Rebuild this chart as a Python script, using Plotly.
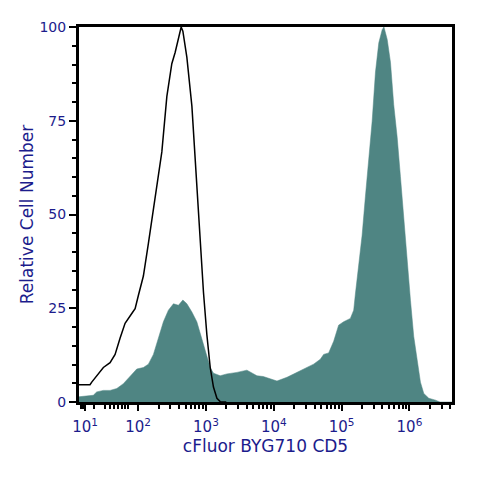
import plotly.graph_objects as go
import math

# x positions are in display decades of the (logicle-like) fluorescence axis
ctrl_x = [1.129, 1.291, 1.317, 1.390, 1.488, 1.587, 1.661, 1.734, 1.808, 1.907, 1.956,
          2.004, 2.078, 2.152, 2.226, 2.300, 2.350, 2.424, 2.497, 2.546, 2.595, 2.635,
          2.660, 2.719, 2.793, 2.866, 2.915, 2.964, 3.014, 3.063, 3.111, 3.162, 3.210, 3.300]
ctrl_y = [4.6, 4.6, 5.3, 7.0, 9.2, 10.5, 12.7, 17.0, 21.0, 23.6, 24.9,
          28.4, 33.6, 42.3, 51.9, 60.6, 66.7, 81.5, 90.2, 93.2, 97.1, 100.0,
          98.9, 91.9, 78.9, 57.1, 44.0, 29.2, 17.9, 9.2, 4.0, 1.0, 0.1, 0.0]

cd5_x = [1.129, 1.340, 1.390, 1.488, 1.587, 1.686, 1.783, 1.882, 1.981, 2.078, 2.152,
         2.226, 2.300, 2.373, 2.447, 2.521, 2.595, 2.660, 2.719, 2.793, 2.866, 2.940,
         3.014, 3.063, 3.111, 3.210, 3.309, 3.457, 3.604, 3.752, 3.845, 3.948, 4.047,
         4.195, 4.391, 4.587, 4.686, 4.735, 4.809, 4.883, 4.956, 5.030, 5.129, 5.178,
         5.203, 5.252, 5.302, 5.351, 5.400, 5.450, 5.499, 5.548, 5.598, 5.624, 5.672,
         5.720, 5.768, 5.819, 5.867, 5.916, 5.966, 6.015, 6.063, 6.114, 6.162, 6.211,
         6.285, 6.384, 6.450, 6.627]
cd5_y = [1.4, 1.8, 2.7, 3.1, 3.1, 3.6, 4.9, 7.0, 8.8, 9.2, 10.1,
         12.7, 17.0, 21.4, 24.5, 26.2, 25.8, 27.2, 26.2, 24.0, 21.4, 17.0,
         12.7, 9.2, 7.7, 7.0, 7.5, 7.9, 8.5, 7.0, 6.8, 6.2, 5.6,
         6.6, 8.4, 10.1, 11.4, 12.7, 13.1, 16.2, 20.5, 21.4, 22.3, 24.5,
         28.8, 35.8, 44.5, 54.9, 64.5, 74.9, 88.0, 95.8, 99.3, 100.0, 96.7,
         90.6, 79.3, 70.6, 60.1, 48.8, 37.5, 27.1, 17.5, 10.5, 5.3, 2.3,
         1.0, 0.5, 0.0, 0.0]

x_tick_pos = [1.218, 2, 3, 4, 5, 6]
x_tick_text = ["10<sup>1</sup>", "10<sup>2</sup>", "10<sup>3</sup>",
               "10<sup>4</sup>", "10<sup>5</sup>", "10<sup>6</sup>"]
x_minor_low = [1.154, 1.181, 1.351, 1.513, 1.587, 1.650, 1.700, 1.759, 1.808, 1.857]
y_tick_vals = [0, 25, 50, 75, 100]

x_minor = list(x_minor_low)
for d in [2, 3, 4, 5, 6]:
    for k in range(2, 10):
        p = d + math.log10(k)
        if p < 6.627:
            x_minor.append(p)

LABEL = "#1c1c8c"
FILL = "#4f8583"

fig = go.Figure()
fig.add_trace(go.Scatter(x=cd5_x, y=cd5_y, mode="lines", fill="tozeroy",
                         fillcolor=FILL, line=dict(color=FILL, width=0.5),
                         hoverinfo="skip", showlegend=False))
fig.add_trace(go.Scatter(x=ctrl_x, y=ctrl_y, mode="lines",
                         line=dict(color="black", width=1.5),
                         hoverinfo="skip", showlegend=False))

fig.update_layout(
    width=472, height=472,
    margin=dict(l=71, r=28, t=11, b=78),
    paper_bgcolor="white", plot_bgcolor="white",
    font=dict(family="DejaVu Sans", color=LABEL, size=14),
    xaxis=dict(range=[1.129, 6.627], tickmode="array", tickvals=x_tick_pos,
               ticktext=x_tick_text, ticks="outside", ticklen=6, tickwidth=2,
               tickcolor="black", showgrid=False, zeroline=False,
               showline=True, linecolor="black", linewidth=3, mirror=True,
               tickfont=dict(size=15, color=LABEL), ticklabelstandoff=3,
               title=dict(text="cFluor BYG710 CD5", font=dict(size=17, color=LABEL),
                          standoff=2),
               minor=dict(tickmode="array", tickvals=x_minor, ticks="outside",
                          ticklen=4, tickwidth=1.5, tickcolor="black", showgrid=False)),
    yaxis=dict(range=[0, 100], tickmode="array", tickvals=y_tick_vals,
               ticks="outside", ticklen=7, tickwidth=1.5, tickcolor="black",
               showgrid=False, zeroline=False,
               showline=True, linecolor="black", linewidth=3, mirror=True,
               tickfont=dict(size=14, color=LABEL),
               title=dict(text="Relative Cell Number", font=dict(size=17, color=LABEL),
                          standoff=2),
               minor=dict(tickmode="linear", tick0=0, dtick=5, ticks="outside",
                          ticklen=4, tickwidth=1.5, tickcolor="black", showgrid=False)),
)

fig.write_html("out.html")
